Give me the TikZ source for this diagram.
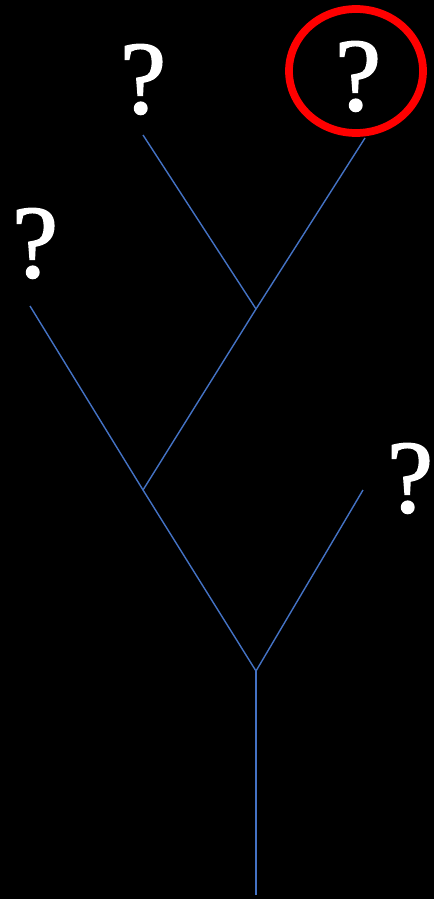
\documentclass[tikz,border=0pt]{standalone}
\usepackage{fontspec}
\setmainfont{Liberation Serif}
\newfontfamily\qfont[FakeBold=1.6]{Liberation Serif}
\usetikzlibrary{backgrounds}
\definecolor{branchblue}{RGB}{68,114,196}
\definecolor{markred}{RGB}{255,0,0}
\tikzset{
  br/.style={draw=branchblue,line width=0.8pt},
  qlab/.style={text=white,font=\qfont\fontsize{59}{59}\selectfont,inner sep=0pt,anchor=base},
  ringmark/.style={draw=markred,line width=4.4pt},
}

\begin{document}
\begin{tikzpicture}[x=0.02cm,y=-0.02cm]
  \fill[black] (0,0) rectangle (434,899);
  \useasboundingbox (0,0) rectangle (434,899);
  % tree
  \coordinate (rt) at (256,895);
  \coordinate (fk) at (256,671);
  \coordinate (n1) at (143,490);
  \coordinate (n2) at (256,309);
  \coordinate (la) at (30,306);
  \coordinate (lb) at (363,490);
  \coordinate (lc) at (143,135);
  \coordinate (ld) at (365,138);
  \draw[br] (rt)--(fk);
  \draw[br] (fk)--(n1)--(la);
  \draw[br] (fk)--(lb);
  \draw[br] (n1)--(n2)--(ld);
  \draw[br] (n2)--(lc);
  % leaves
  \node[qlab] (qa) at (35,277) {?};
  \node[qlab] (qb) at (410,512) {?};
  \node[qlab] (qc) at (143,113) {?};
  \node[qlab] (qd) at (358,110) {?};
  \draw[ringmark] (356,71) ellipse [x radius=67, y radius=62];
\end{tikzpicture}
\end{document}
